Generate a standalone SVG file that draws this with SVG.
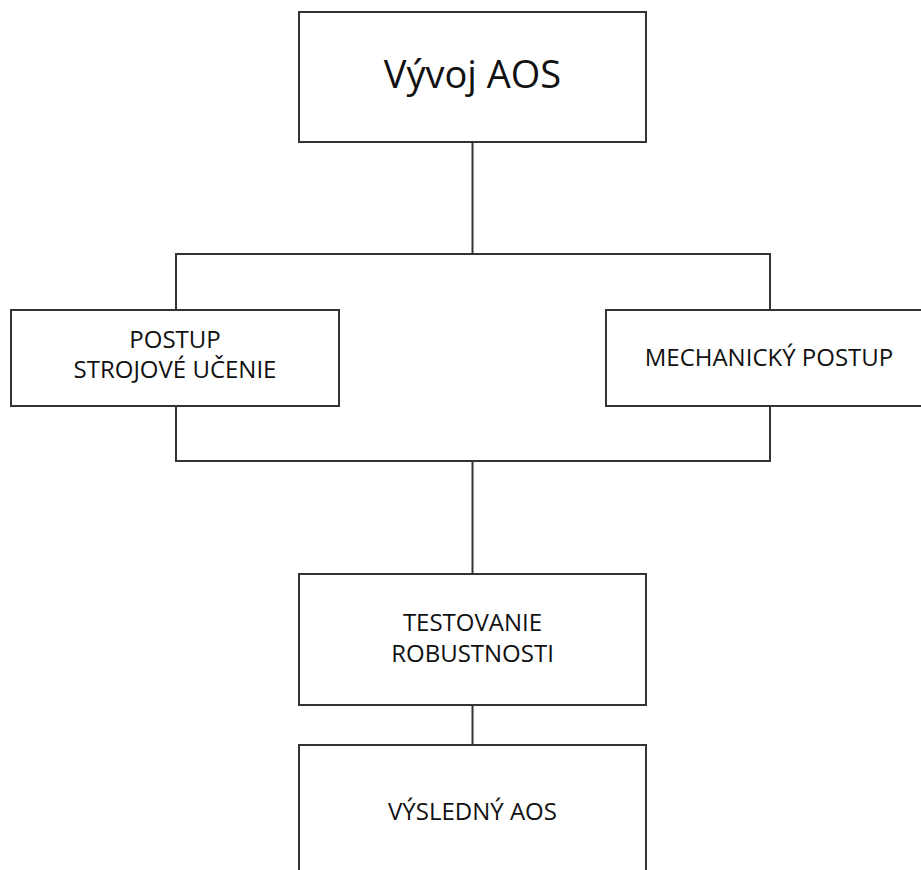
<svg xmlns="http://www.w3.org/2000/svg" width="921" height="870" viewBox="0 0 921 870">
<style>
.box{fill:#fff;stroke:#333;stroke-width:2}
.con{fill:none;stroke:#333;stroke-width:2}
.t{font-family:"Open Sans","Noto Sans",sans-serif;font-size:24px;fill:#111;text-anchor:middle}
.big{font-size:38px}
</style>
<rect width="921" height="870" fill="#fff"/>
<g id="connectors">
<path class="con" d="M472.5,142 V254 M176,310 V254 H770 V310 M176,406 V461 H770 V406 M472.5,461 V574 M472.5,705 V745"/>
</g>
<g id="vyvoj">
<rect class="box" x="299" y="12" width="347" height="130"/>
<text class="t big" x="472.5" y="88">Vývoj AOS</text>
</g>
<g id="strojove">
<rect class="box" x="11" y="310" width="328" height="96"/>
<text class="t" x="175" y="348">POSTUP</text>
<text class="t" x="175" y="378">STROJOVÉ UČENIE</text>
</g>
<g id="mechanicky">
<rect class="box" x="606" y="310" width="330" height="96"/>
<text class="t" x="769" y="366">MECHANICKÝ POSTUP</text>
</g>
<g id="testovanie">
<rect class="box" x="299" y="574" width="347" height="131"/>
<text class="t" x="472.5" y="631">TESTOVANIE</text>
<text class="t" x="472.5" y="662">ROBUSTNOSTI</text>
</g>
<g id="vysledny">
<rect class="box" x="299" y="745" width="347" height="140"/>
<text class="t" x="472.5" y="820">VÝSLEDNÝ AOS</text>
</g>
</svg>
